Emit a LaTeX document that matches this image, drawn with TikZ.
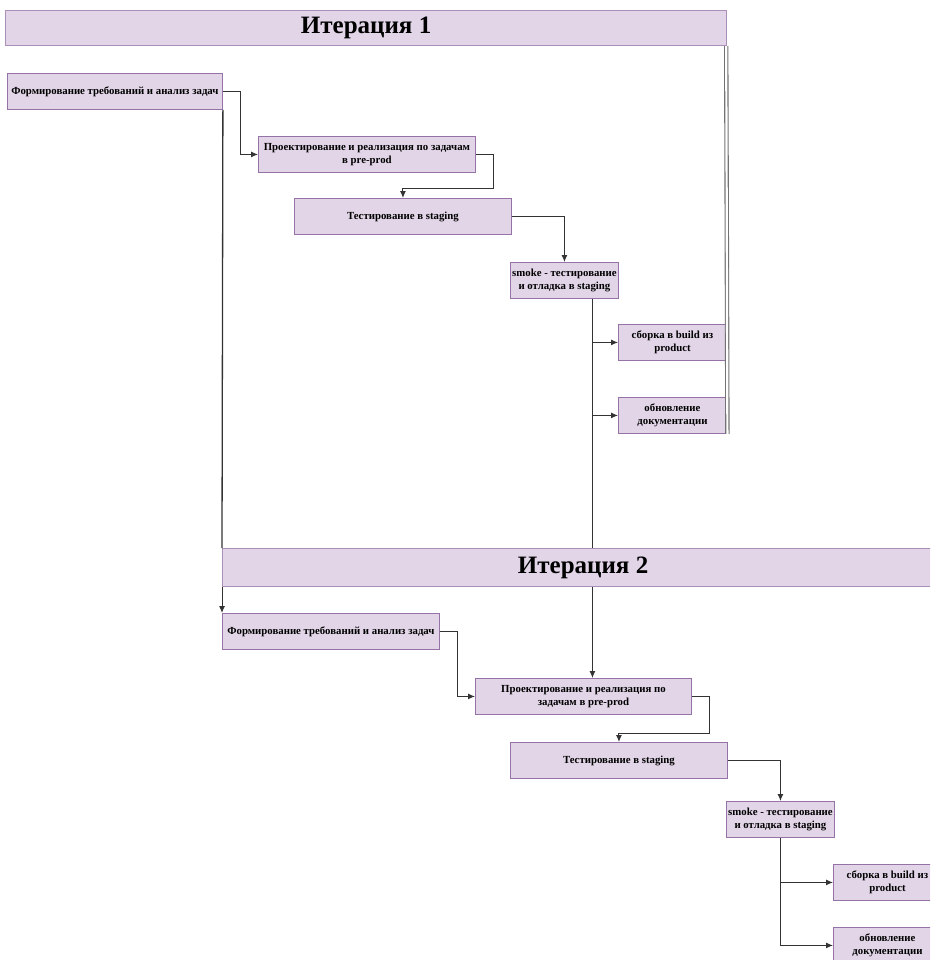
\documentclass[tikz,border=0pt]{standalone}
\usepackage{fontspec}
\setmainfont{Liberation Serif}
\usepackage{tikz}
\usetikzlibrary{arrows.meta}
\usetikzlibrary{calc}

\definecolor{stagefill}{HTML}{E1D5E7}
\definecolor{stageline}{HTML}{9673A6}

\begin{document}
\begin{tikzpicture}[x=1pt,y=-1pt,
	stage/.style={draw=stageline, fill=stagefill, line width=0.9pt, anchor=north west,
		minimum height=36pt, inner sep=1pt, align=center,
		font=\bfseries\fontsize{10.8}{12.8}\selectfont},
	iter/.style={draw=stageline!80, fill=stagefill, line width=1.2pt, anchor=north west,
		minimum width=721pt, minimum height=36pt, inner sep=1pt,
		font=\bfseries\fontsize{25}{28}\selectfont},
	flow/.style={draw=black!80, line width=1pt, -{Latex[length=7pt,width=6pt]}},
	link/.style={draw=black!80, line width=1pt}]
	
	\useasboundingbox (0,0) rectangle (930,960);
	\clip (0,0) rectangle (930,960);
	
	% Iteration 1
	\node [iter, minimum height=35pt] (iter1) at (5,10) {Итерация 1};
	\node [stage, minimum width=215pt] (req1) at (7,73) {Формирование требований и анализ задач};
	\node [stage, minimum width=217pt] (design1) at (258,136) {Проектирование и реализация по задачам\\в pre-prod};
	\node [stage, minimum width=217pt] (test1) at (294,198) {Тестирование в staging};
	\node [stage, minimum width=108pt] (smoke1) at (510,262) {smoke - тестирование\\и отладка в staging};
	\node [stage, minimum width=108pt] (build1) at (618,324) {сборка в build из\\product};
	\node [stage, minimum width=108pt] (docs1) at (618,397) {обновление\\документации};
	
	% Iteration 2
	\node [iter, minimum height=38pt] (iter2) at (222,548) {Итерация 2};
	\node [stage, minimum width=217pt] (req2) at (222,613) {Формирование требований и анализ задач};
	\node [stage, minimum width=216pt] (design2) at (475,678) {Проектирование и реализация по\\задачам в pre-prod};
	\node [stage, minimum width=217pt] (test2) at (510,742) {Тестирование в staging};
	\node [stage, minimum width=108pt] (smoke2) at (726,801) {smoke - тестирование\\и отладка в staging};
	\node [stage, minimum width=108pt] (build2) at (833,864) {сборка в build из\\product};
	\node [stage, minimum width=108pt] (docs2) at (833,927) {обновление\\документации};
	
	% Arrows, iteration 1
	\draw [flow] (req1.east) -- ++(18,0) |- (design1.west);
	\draw [flow] (design1.east) -- ++(18,0) |- ($ (test1.north) + (0,-10) $) -- (test1.north);
	\draw [flow] (test1.east) -| (smoke1.north);
	\coordinate (trunk1) at ($ (smoke1.south) + (28,0) $);
	\draw [link] (trunk1) -- (trunk1 |- iter2.north);
	\draw [flow] (trunk1 |- build1.west) -- (build1.west);
	\draw [flow] (trunk1 |- docs1.west) -- (docs1.west);
	\draw [black!55, line width=1.1pt, double=white, double distance=2.2pt] ($ (iter1.south east) + (-1,0) $) -- ($ (docs1.south east) + (0.5,0) $);
	
	% Between iterations
	\draw [link, line width=1.3pt] (req1.south east) -- (iter2.north west);
	\draw [flow] (iter2.south west) -- (req2.north west);
	\draw [flow] (trunk1 |- iter2.south) -- (trunk1 |- design2.north);
	
	% Arrows, iteration 2
	\draw [flow] (req2.east) -- ++(18,0) |- (design2.west);
	\draw [flow] (design2.east) -- ++(18,0) |- ($ (test2.north) + (0,-9) $) -- (test2.north);
	\draw [flow] (test2.east) -| (smoke2.north);
	\coordinate (trunk2) at (smoke2.south);
	\draw [link] (trunk2) -- (trunk2 |- docs2.west);
	\draw [flow] (trunk2 |- build2.west) -- (build2.west);
	\draw [flow] (trunk2 |- docs2.west) -- (docs2.west);
	
\end{tikzpicture}
\end{document}
